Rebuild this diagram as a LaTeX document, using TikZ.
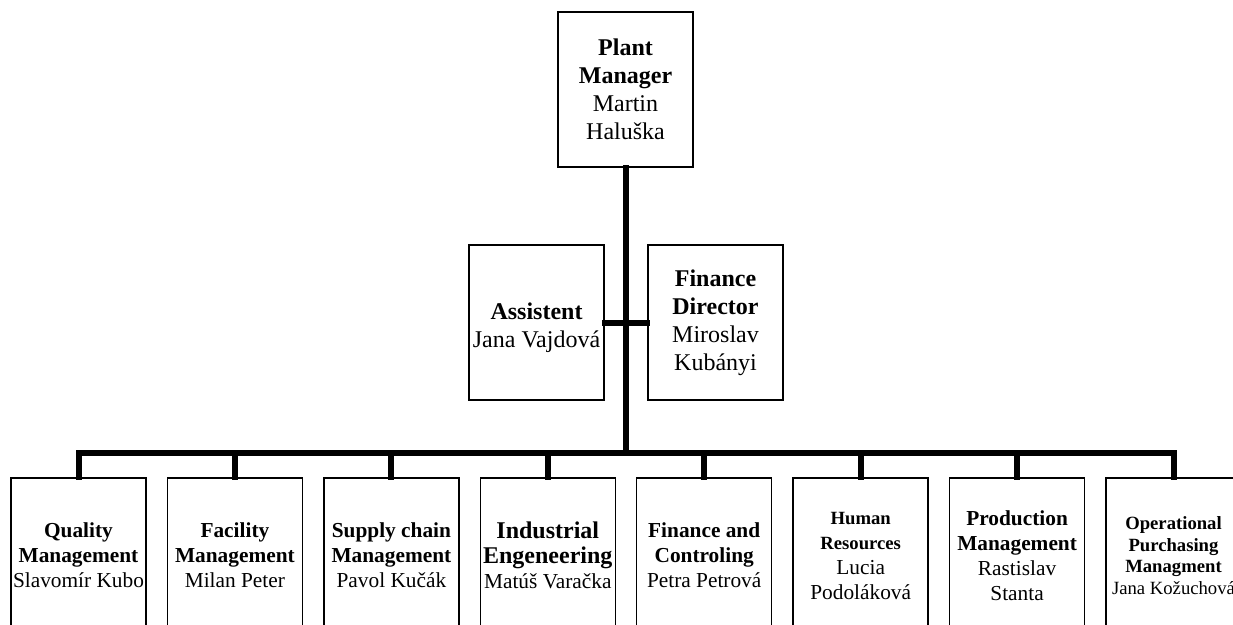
\documentclass[tikz,border=0pt]{standalone}
\usepackage{fontspec}
\setmainfont{Liberation Serif}
\usepackage{tikz}
\usetikzlibrary{calc}
\tikzset{
	post/.style={draw, line width=1.1pt, inner sep=0pt, align=center, minimum width=101.25pt, minimum height=116.25pt},
	link/.style={line width=4.5pt, line cap=rect}
}
\def\big{\fontsize{18}{21}\selectfont}
\def\mid{\fontsize{16}{18.75}\selectfont}
\def\sml{\fontsize{14}{16.2}\selectfont}

\begin{document}
\begin{tikzpicture}[x=0.75pt, y=-0.75pt]
			%%%%% START %%%%%
			
			\clip (0, 0) rectangle (1233, 625);
			
			\node[post, font=\big] (pm) at (625.5, 89.5) {\textbf{Plant}\\\textbf{Manager}\\Martin\\Haluška};
			
			\node[post, font=\big] (asst) at (536.5, 322.5) {\mbox{}\\\textbf{Assistent}\\Jana Vajdová};
			\node[post, font=\big] (fin) at (715.5, 322.5) {\textbf{Finance}\\\textbf{Director}\\Miroslav\\Kubányi};
			
			\node[post, font=\mid] (qm) at (78.5, 555.5) {\textbf{Quality}\\\textbf{Management}\\Slavomír Kubo};
			\node[post, font=\mid] (fm) at (234.9, 555.5) {\textbf{Facility}\\\textbf{Management}\\Milan Peter};
			\node[post, font=\mid] (scm) at (391.4, 555.5) {\textbf{Supply chain}\\\textbf{Management}\\Pavol Kučák};
			\node[post, font=\mid] (ie) at (547.8, 555.5) {{\big\bfseries Industrial}\\{\big\bfseries Engeneering}\\Matúš Varačka};
			\node[post, font=\mid] (fc) at (704.2, 555.5) {\textbf{Finance and}\\\textbf{Controling}\\Petra Petrová};
			\node[post, font=\mid] (hr) at (860.7, 555.5) {{\sml\bfseries Human}\\{\sml\bfseries Resources}\\Lucia\\Podoláková};
			\node[post, font=\mid] (prm) at (1017.1, 555.5) {\textbf{Production}\\\textbf{Management}\\Rastislav\\Stanta};
			\node[post, font=\sml] (opm) at (1173.5, 555.5) {\textbf{Operational}\\\textbf{Purchasing}\\\textbf{Managment}\\Jana Kožuchová};
			
			\coordinate (bus) at (625.5, 453);
			
			\draw[link] (pm.south) -- (pm.south |- bus);
			\draw[link] (asst.east) -- (fin.west);
			\draw[link] (qm.north |- bus) -- (opm.north |- bus);
			
			\draw[link] (qm.north) -- (qm.north |- bus);
			\draw[link] (fm.north) -- (fm.north |- bus);
			\draw[link] (scm.north) -- (scm.north |- bus);
			\draw[link] (ie.north) -- (ie.north |- bus);
			\draw[link] (fc.north) -- (fc.north |- bus);
			\draw[link] (hr.north) -- (hr.north |- bus);
			\draw[link] (prm.north) -- (prm.north |- bus);
			\draw[link] (opm.north) -- (opm.north |- bus);
			
			%%%%% END %%%%%
\end{tikzpicture}
\end{document}
